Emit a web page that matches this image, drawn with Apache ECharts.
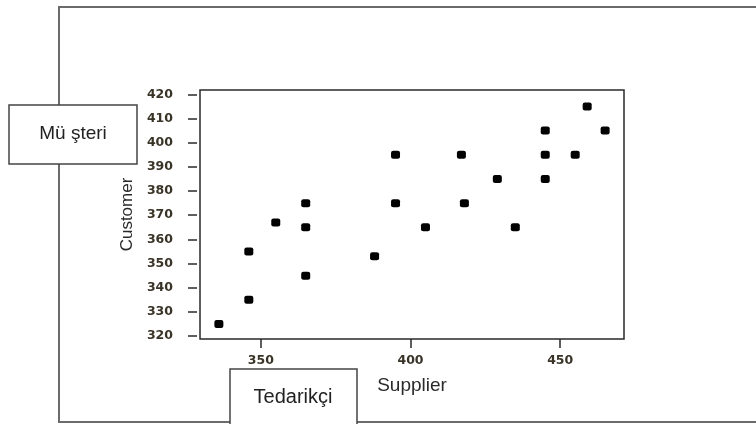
<!DOCTYPE html>
<html>
<head>
<meta charset="utf-8">
<script src="https://cdn.jsdelivr.net/npm/echarts@6/dist/echarts.min.js"></script>
<style>
html,body{margin:0;padding:0;background:#fff;}
#chart{width:756px;height:424px;}
</style>
</head>
<body>
<div id="chart"></div>
<script>
// Data
const supplier = [336, 346, 346, 355, 365, 365, 365, 388, 395, 395, 405, 417, 418, 429, 435, 445, 445, 445, 455, 459, 465];
const customer = [325, 335, 355, 367, 345, 365, 375, 353, 375, 395, 365, 395, 375, 385, 365, 385, 395, 405, 395, 415, 405];
const xTicks = [350, 400, 450];
const yTicks = [320, 330, 340, 350, 360, 370, 380, 390, 400, 410, 420];
const xTitle = 'Supplier';
const yTitle = 'Customer';
const boxLeftLabel = 'Mü şteri';
const boxBottomLabel = 'Tedarikçi';

const points = supplier.map((x, i) => [x, customer[i]]);

const chart = echarts.init(document.getElementById('chart'), null, {renderer: 'canvas'});
const tickFont = {fontFamily: 'DejaVu Sans', fontWeight: 'bold', fontSize: 12.5, color: '#3a3428'};

chart.setOption({
  animation: false,
  backgroundColor: '#ffffff',
  grid: {
    left: 200, top: 90, right: 132, bottom: 85,
    show: true, borderColor: '#2a2a2a', borderWidth: 1.5, backgroundColor: 'transparent'
  },
  xAxis: {
    type: 'value', min: 329.7, max: 471.3,
    name: xTitle, nameLocation: 'middle', nameGap: 37,
    nameTextStyle: {fontFamily: 'Liberation Sans', fontSize: 19, color: '#2a2a2a'},
    axisLine: {show: false},
    axisTick: {show: true, length: 9, lineStyle: {color: '#2a2a2a', width: 1.5}, customValues: xTicks},
    axisLabel: Object.assign({margin: 15, customValues: xTicks}, tickFont),
    splitLine: {show: false}
  },
  yAxis: {
    type: 'value', min: 318.8, max: 421.8, offset: 3,
    name: yTitle, nameLocation: 'middle', nameGap: 58,
    nameTextStyle: {fontFamily: 'Liberation Sans', fontSize: 17, color: '#2a2a2a'},
    axisLine: {show: false},
    axisTick: {show: true, length: 9, lineStyle: {color: '#2a2a2a', width: 1.5}, customValues: yTicks},
    axisLabel: Object.assign({margin: 24, customValues: yTicks}, tickFont),
    splitLine: {show: false}
  },
  series: [{
    type: 'scatter',
    data: points,
    symbol: 'roundRect',
    symbolSize: [9, 8],
    itemStyle: {color: '#000', opacity: 1}
  }],
  graphic: [
    {
      type: 'polyline', z: 1, silent: true,
      shape: {points: [[756, 7], [59, 7], [59, 422], [756, 422]]},
      style: {stroke: '#6b6b6b', lineWidth: 2, fill: null}
    },
    {
      type: 'rect', z: 10, silent: true,
      shape: {x: 9, y: 105, width: 128, height: 59},
      style: {fill: '#fff', stroke: '#444', lineWidth: 1.5}
    },
    {
      type: 'text', z: 11, silent: true,
      x: 73, y: 134,
      style: {text: boxLeftLabel, fontFamily: 'Liberation Sans', fontSize: 19, fill: '#222', align: 'center', verticalAlign: 'middle'}
    },
    {
      type: 'rect', z: 10, silent: true,
      shape: {x: 230, y: 369, width: 127, height: 60},
      style: {fill: '#fff', stroke: '#444', lineWidth: 1.5}
    },
    {
      type: 'text', z: 11, silent: true,
      x: 293, y: 397,
      style: {text: boxBottomLabel, fontFamily: 'Liberation Sans', fontSize: 20, fill: '#222', align: 'center', verticalAlign: 'middle'}
    }
  ]
});
</script>
</body>
</html>
